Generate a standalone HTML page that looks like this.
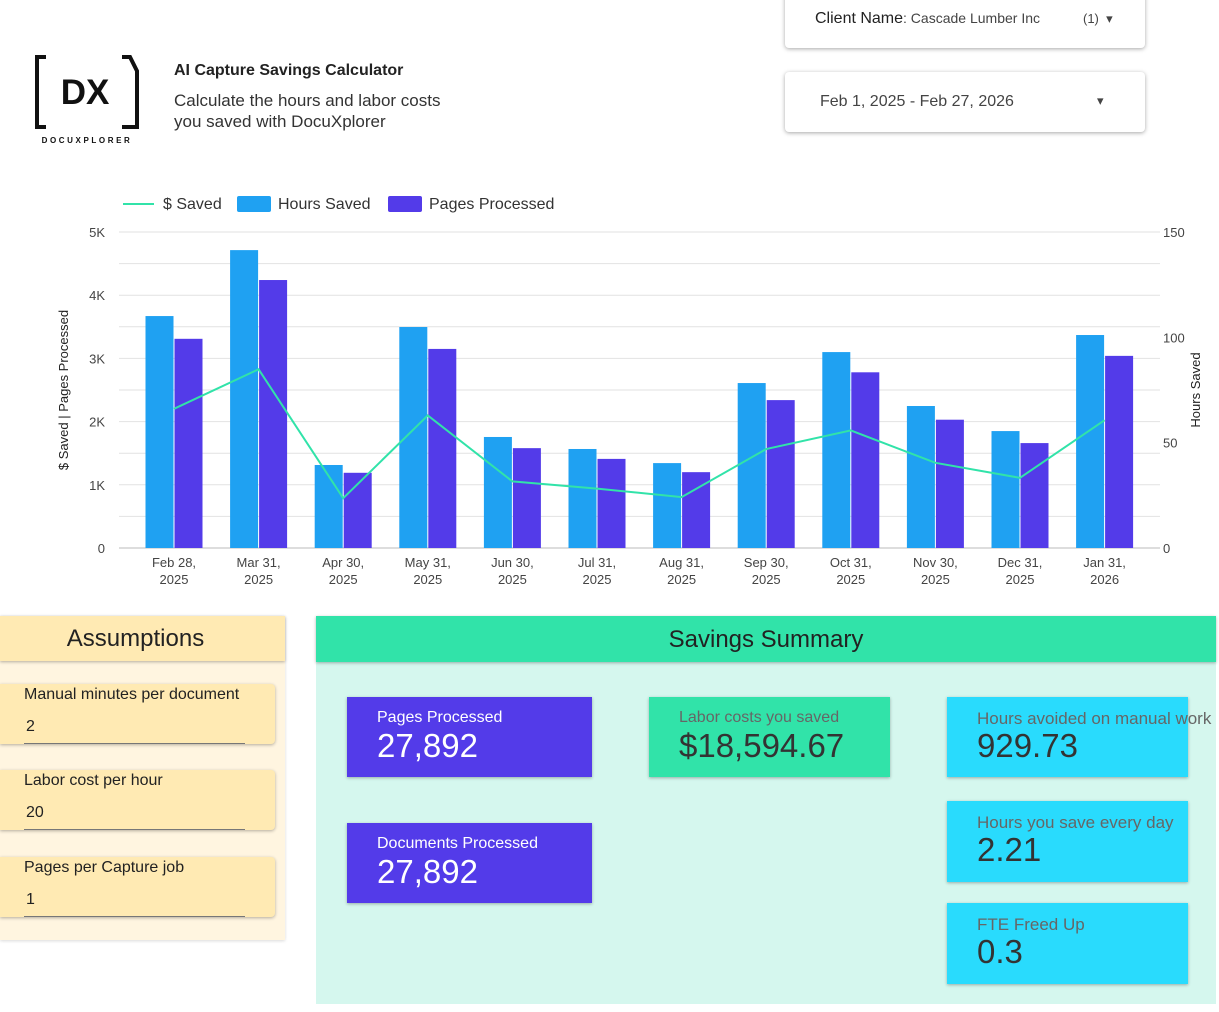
<!DOCTYPE html>
<html><head><meta charset="utf-8">
<style>
*{box-sizing:border-box;margin:0;padding:0}
body{width:1219px;height:1012px;background:#fff;font-family:"Liberation Sans",Arial,sans-serif;position:relative;overflow:hidden;color:#222}
.abs{position:absolute}
.card{position:absolute;background:#fff;border-radius:4px;box-shadow:0 1px 4px rgba(0,0,0,.35)}
.inp{position:absolute;left:0;width:275px;height:60px;background:#ffeab3;border-radius:0 4px 4px 0;box-shadow:0 1px 3px rgba(0,0,0,.3)}
.inp .l{position:absolute;left:24px;top:2px;font-size:16px;color:#222}
.inp .v{position:absolute;left:26px;top:34px;font-size:16px;color:#222}
.inp .u{position:absolute;left:24px;right:30px;bottom:0;height:1px;background:#777}
.kpi{position:absolute;box-shadow:0 1px 3px rgba(0,0,0,.3)}
.kpi .t{position:absolute;left:30px;top:12px;font-size:16px;white-space:nowrap}
.kpi .n{position:absolute;left:30px;top:30px;font-size:33px;white-space:nowrap}
</style></head><body>
<div class="abs" style="left:34px;top:55px;width:106px;height:92px">
<svg width="106" height="92" viewBox="0 0 106 92">
<path d="M12 2H3V72H12" fill="none" stroke="#111" stroke-width="4"/>
<path d="M88 2H96L103 16V72H88" fill="none" stroke="#111" stroke-width="4"/>
<text x="51" y="49" text-anchor="middle" font-family="Liberation Sans" font-weight="bold" font-size="35" fill="#111">DX</text>
<text x="53" y="88" text-anchor="middle" font-family="Liberation Sans" font-weight="bold" font-size="8" letter-spacing="2.6" fill="#111">DOCUXPLORER</text>
</svg></div>
<div class="abs" style="left:174px;top:62px;font-size:16px;font-weight:bold;color:#222">AI Capture Savings Calculator</div>
<div class="abs" style="left:174px;top:90px;font-size:17px;line-height:21px;color:#333">Calculate the hours and labor costs<br>you saved with DocuXplorer</div>

<div class="card" style="left:785px;top:-10px;width:360px;height:58px">
<span class="abs" style="left:30px;top:20px;font-size:16px;color:#222">Client Name<span style="font-size:14px;color:#444">: Cascade Lumber Inc</span></span>
<span class="abs" style="left:298px;top:21px;font-size:13px;color:#444">(1) &nbsp;▾</span></div>
<div class="card" style="left:785px;top:72px;width:360px;height:60px">
<span class="abs" style="left:35px;top:21px;font-size:16px;color:#444">Feb 1, 2025 - Feb 27, 2026</span>
<span class="abs" style="left:312px;top:21px;font-size:13px;color:#444">▾</span></div>

<svg class="abs" style="left:0;top:0" width="1219" height="610" id="chart"></svg>

<div class="abs" style="left:0;top:616px;width:285px;height:324px;background:#fff5e0;box-shadow:0 1px 3px rgba(0,0,0,.15)"></div>
<div class="abs" style="left:0;top:616px;width:285px;height:45px;background:#ffeab3;box-shadow:0 1px 3px rgba(0,0,0,.3);text-align:center;padding-right:14px;font-size:24px;line-height:46px;color:#222">Assumptions</div>
<div class="inp" style="top:684px"><span class="l">Manual minutes per document</span><span class="v">2</span><span class="u"></span></div>
<div class="inp" style="top:770px"><span class="l">Labor cost per hour</span><span class="v">20</span><span class="u"></span></div>
<div class="inp" style="top:857px"><span class="l">Pages per Capture job</span><span class="v">1</span><span class="u"></span></div>

<div class="abs" style="left:316px;top:616px;width:900px;height:388px;background:#d5f7ee"></div>
<div class="abs" style="left:316px;top:616px;width:900px;height:46px;background:#31e3a9;box-shadow:0 1px 3px rgba(0,0,0,.3);text-align:center;font-size:24px;line-height:47px;color:#222">Savings Summary</div>
<div class="kpi" style="left:347px;top:697px;width:245px;height:80px;background:#533be9;color:#fff"><span class="t">Pages Processed</span><span class="n">27,892</span></div>
<div class="kpi" style="left:347px;top:823px;width:245px;height:80px;background:#533be9;color:#fff"><span class="t">Documents Processed</span><span class="n">27,892</span></div>
<div class="kpi" style="left:649px;top:697px;width:241px;height:80px;background:#31e3a9"><span class="t" style="color:#666">Labor costs you saved</span><span class="n" style="color:#333">$18,594.67</span></div>
<div class="kpi" style="left:947px;top:697px;width:241px;height:80px;background:#29dbfd"><span class="t" style="color:#666;font-size:17px">Hours avoided on manual work</span><span class="n" style="color:#333">929.73</span></div>
<div class="kpi" style="left:947px;top:801px;width:241px;height:81px;background:#29dbfd"><span class="t" style="color:#666;font-size:17px">Hours you save every day</span><span class="n" style="color:#333">2.21</span></div>
<div class="kpi" style="left:947px;top:903px;width:241px;height:81px;background:#29dbfd"><span class="t" style="color:#666;font-size:17px">FTE Freed Up</span><span class="n" style="color:#333">0.3</span></div>

<script>
const categories=["Feb 28,|2025","Mar 31,|2025","Apr 30,|2025","May 31,|2025","Jun 30,|2025","Jul 31,|2025","Aug 31,|2025","Sep 30,|2025","Oct 31,|2025","Nov 30,|2025","Dec 31,|2025","Jan 31,|2026"];
const hoursSaved=[110.1,141.4,39.4,104.9,52.7,47.0,40.3,78.3,93.0,67.4,55.5,101.1];
const pagesProcessed=[3310,4240,1190,3150,1580,1410,1200,2340,2780,2030,1660,3040];
const dollarsSaved=[2202,2828,788,2098,1054,940,806,1566,1860,1348,1110,2022];
const leftTicks=[0,1000,2000,3000,4000,5000];
const leftTickLabels=["0","1K","2K","3K","4K","5K"];
const rightTicks=[0,50,100,150];

const NS="http://www.w3.org/2000/svg";
const svg=document.getElementById('chart');
const X0=119,X1=1160,Y0=548,Y1=232,LMAX=5000,RMAX=150;
const bandStart=131.7,band=84.6;
const yL=v=>Y0-(v/LMAX)*(Y0-Y1);
const yR=v=>Y0-(v/RMAX)*(Y0-Y1);
const xC=i=>bandStart+band*(i+0.5);
function mk(tag,attrs,txt){const e=document.createElementNS(NS,tag);for(const k in attrs)e.setAttribute(k,attrs[k]);if(txt!=null)e.textContent=txt;svg.appendChild(e);return e;}
for(let v=0;v<=LMAX;v+=500){
 const g=mk('line',{x1:X0,x2:X1,y1:yL(v),y2:yL(v),stroke:v===0?'#bbb':'#e2e2e2','stroke-width':1});
 
 
}
leftTicks.forEach((v,i)=>{
 const t=mk('text',{x:105,y:yL(v)+5,'text-anchor':'end','font-size':13,fill:'#444','font-family':'Liberation Sans'},leftTickLabels[i]);
 
 
});
rightTicks.forEach(v=>{
 const t=mk('text',{x:1163,y:yR(v)+5,'font-size':13,fill:'#444','font-family':'Liberation Sans'},String(v));
 
 
});
let t=mk('text',{transform:'translate(68,390) rotate(-90)','text-anchor':'middle','font-size':13,fill:'#222','font-family':'Liberation Sans'},'$ Saved | Pages Processed');


t=mk('text',{transform:'translate(1200,390) rotate(-90)','text-anchor':'middle','font-size':13,fill:'#222','font-family':'Liberation Sans'},'Hours Saved');


categories.forEach((c,i)=>{
 const cx=xC(i);
 const hb=mk('rect',{x:cx-28.5,y:yR(hoursSaved[i]),width:28,height:Y0-yR(hoursSaved[i]),fill:'#1fa1f2'});
 
 
 const pb=mk('rect',{x:cx+0.5,y:yL(pagesProcessed[i]),width:28,height:Y0-yL(pagesProcessed[i]),fill:'#533be9'});
 
 
 const p=c.split('|');
 const l1=mk('text',{x:cx,y:567,'text-anchor':'middle','font-size':13,fill:'#444','font-family':'Liberation Sans'},p[0]);
 
 
 const l2=mk('text',{x:cx,y:584,'text-anchor':'middle','font-size':13,fill:'#444','font-family':'Liberation Sans'},p[1]);
 
 
});
const pts=dollarsSaved.map((v,i)=>xC(i)+','+yL(v)).join(' ');
const line=mk('polyline',{points:pts,fill:'none',stroke:'#31e3a9','stroke-width':2});


let e=mk('line',{x1:123,x2:154,y1:204,y2:204,stroke:'#31e3a9','stroke-width':2});


e=mk('text',{x:163,y:209,'font-size':16,fill:'#333','font-family':'Liberation Sans'},'$ Saved');


e=mk('rect',{x:237,y:196,width:34,height:16,rx:2,fill:'#1fa1f2'});


e=mk('text',{x:278,y:209,'font-size':16,fill:'#333','font-family':'Liberation Sans'},'Hours Saved');


e=mk('rect',{x:388,y:196,width:34,height:16,rx:2,fill:'#533be9'});


e=mk('text',{x:429,y:209,'font-size':16,fill:'#333','font-family':'Liberation Sans'},'Pages Processed');


</script>
</body></html>
